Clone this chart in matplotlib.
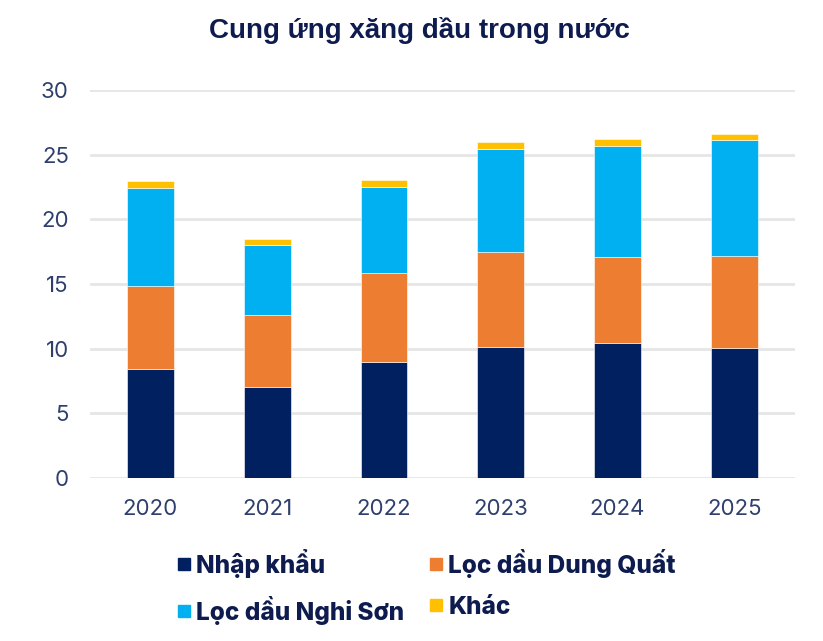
import matplotlib.pyplot as plt
import numpy as np
from matplotlib.lines import Line2D

years = ["2020", "2021", "2022", "2023", "2024", "2025"]
nhap_khau = [8.4, 7.0, 9.0, 10.15, 10.45, 10.05]
dung_quat = [6.45, 5.6, 6.85, 7.3, 6.6, 7.1]
nghi_son = [7.6, 5.45, 6.65, 8.0, 8.65, 9.0]
khac = [0.5, 0.4, 0.55, 0.5, 0.5, 0.45]

series = [
    ("Nhập khẩu", nhap_khau, "#002060"),
    ("Lọc dầu Dung Quất", dung_quat, "#ED7D31"),
    ("Lọc dầu Nghi Sơn", nghi_son, "#00B0F0"),
    ("Khác", khac, "#FFC000"),
]

text_color = "#2E3F6E"
title_color = "#0D1B4F"

fig = plt.figure(figsize=(8.23, 6.41), dpi=100)
ax = fig.add_axes([0.109, 0.2543, 0.857, 0.6053])

x = np.arange(len(years))
bottom = np.zeros(len(years))
for label, values, color in series:
    ax.bar(x, values, width=0.4, bottom=bottom, color=color,
           edgecolor="white", linewidth=0.4, label=label, zorder=3)
    bottom += np.asarray(values)

ax.set_xlim(-0.52, 5.52)
ax.set_ylim(0, 30)
ax.set_yticks(range(0, 31, 5))
ax.set_xticks(x, years)
ax.grid(axis="y", color="#E6E6E6", linewidth=2, zorder=0)
for spine in ax.spines.values():
    spine.set_visible(False)
ax.tick_params(axis="both", length=0, colors=text_color, labelsize=16)
ax.tick_params(axis="y", pad=15)
ax.tick_params(axis="x", pad=15)
for lbl in ax.get_xticklabels() + ax.get_yticklabels():
    lbl.set_family("Inter")

fig.text(0.51, 0.953, "Cung ứng xăng dầu trong nước", ha="center", va="center",
         fontsize=20, fontweight="bold", color=title_color, family="Liberation Sans")

# legend reads row by row in the reference, matplotlib fills columns first
order = [0, 2, 1, 3]
proxies = [Line2D([], [], marker="s", linestyle="none", markersize=9,
                  markerfacecolor=series[i][2], markeredgecolor=series[i][2])
           for i in order]
leg = fig.legend(proxies, [series[i][0] for i in order], ncol=2, loc="upper left",
                 bbox_to_anchor=(0.215, 0.144), frameon=False,
                 prop={"family": "Inter", "weight": "heavy", "size": 17.5},
                 handlelength=0.55, handletextpad=0.25, columnspacing=1.0,
                 labelspacing=0.75, borderaxespad=0, borderpad=0)
for t in leg.get_texts():
    t.set_color(title_color)

fig.savefig("out.png", dpi=100)
